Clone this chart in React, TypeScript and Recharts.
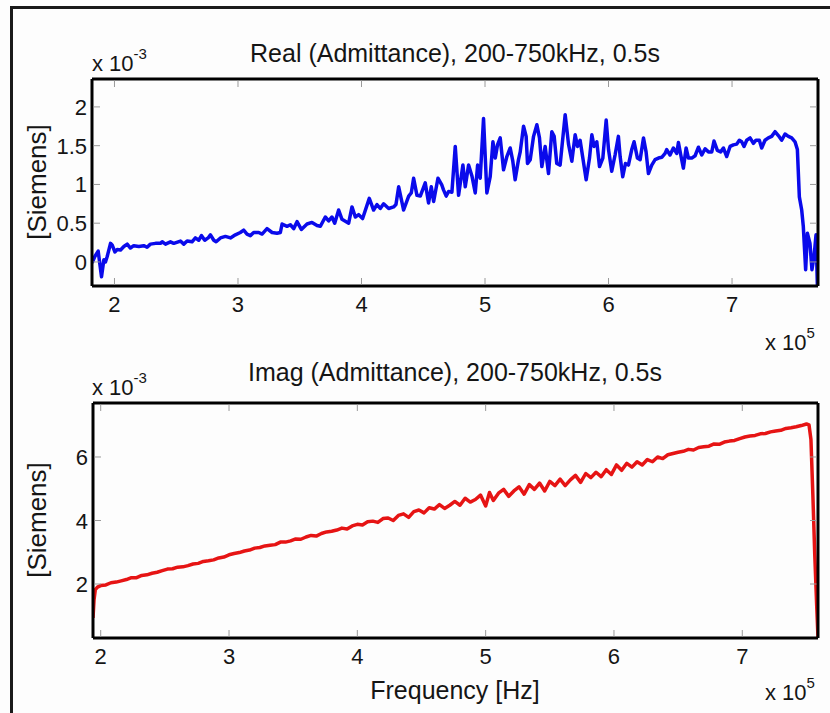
import React from 'react';
import { LineChart, Line, XAxis, YAxis } from 'recharts';

// Real part of the admittance sweep: frequency (kHz) and conductance (x 1e-3 S)
const realFreqKHz = [
  181.9, 184.1, 186.8, 189.5, 191.4, 192.7, 194.1, 196.8, 198.1, 200.3, 202.2, 204.9, 207.6, 210.3, 212.9, 215.6,
  219.7, 223.7, 226.4, 229.1, 233.2, 237.2, 238.6, 241.3, 245.3, 248.0, 253.4, 256.1, 258.8, 262.8, 265.5, 268.2,
  270.4, 273.1, 275.8, 277.7, 280.4, 282.3, 285.8, 289.8, 293.9, 297.9, 301.9, 304.6, 307.3, 310.0, 312.7, 316.8,
  319.5, 323.5, 327.6, 331.6, 334.3, 335.7, 339.7, 342.4, 345.1, 347.8, 351.3, 355.9, 359.9, 364.0, 366.7, 370.7,
  373.4, 376.1, 378.3, 381.5, 384.2, 389.6, 392.3, 395.0, 397.7, 400.9, 406.3, 409.8, 412.5, 415.2, 417.9, 422.0,
  426.0, 427.9, 430.1, 434.1, 438.2, 440.3, 442.2, 444.9, 447.6, 451.6, 454.3, 456.5, 458.4, 461.9, 465.1, 466.4,
  468.6, 470.5, 473.2, 475.9, 478.6, 482.1, 484.0, 486.7, 489.4, 492.1, 494.0, 496.1, 498.8, 501.5, 504.2, 506.4,
  508.3, 510.1, 512.3, 515.0, 517.7, 520.4, 522.5, 524.4, 527.1, 528.5, 531.2, 533.3, 534.4, 536.6, 539.3, 542.0,
  544.1, 546.0, 548.7, 551.4, 554.1, 556.0, 558.1, 560.8, 564.9, 567.6, 570.3, 573.0, 574.9, 577.0, 579.2, 581.9,
  584.6, 586.5, 588.3, 590.5, 592.7, 595.4, 598.1, 600.0, 602.6, 605.3, 608.0, 609.4, 611.5, 613.7, 616.1, 618.8,
  620.7, 623.4, 625.6, 628.3, 630.4, 632.3, 635.0, 637.7, 640.4, 643.1, 645.8, 647.1, 649.8, 652.5, 655.2, 656.6,
  658.5, 660.6, 662.8, 664.7, 667.4, 670.1, 672.8, 675.5, 678.2, 680.9, 683.6, 685.4, 688.1, 690.8, 693.0, 695.7,
  698.4, 701.1, 703.8, 705.9, 707.8, 709.7, 711.9, 714.6, 717.3, 719.4, 722.1, 724.0, 726.7, 729.4, 732.1, 734.8,
  737.5, 740.2, 742.9, 745.6, 748.3, 751.0, 752.9, 754.5, 756.4, 757.7, 759.6, 761.0, 763.1, 764.7, 766.4, 768.0,
  769.1,
];
const realAdmittance = [
  -0.01, 0.07, 0.14, -0.19, 0.03, 0.0, 0.07, 0.24, 0.22, 0.13, 0.16, 0.155, 0.2, 0.23, 0.18, 0.21,
  0.2, 0.21, 0.19, 0.23, 0.24, 0.24, 0.26, 0.23, 0.26, 0.24, 0.27, 0.23, 0.27, 0.26, 0.31, 0.28,
  0.34, 0.28, 0.31, 0.35, 0.28, 0.26, 0.31, 0.33, 0.31, 0.35, 0.38, 0.41, 0.36, 0.34, 0.38, 0.38,
  0.36, 0.43, 0.38, 0.37, 0.38, 0.49, 0.46, 0.48, 0.43, 0.52, 0.42, 0.49, 0.51, 0.47, 0.46, 0.58,
  0.53, 0.58, 0.5, 0.67, 0.55, 0.5, 0.71, 0.58, 0.61, 0.56, 0.82, 0.67, 0.74, 0.69, 0.75, 0.69,
  0.71, 0.74, 0.97, 0.67, 0.85, 0.89, 1.08, 0.86, 0.85, 1.02, 0.76, 0.97, 0.78, 1.08, 0.99, 0.93,
  0.85, 0.91, 0.9, 1.49, 0.86, 1.25, 0.97, 1.25, 1.11, 0.89, 1.25, 1.08, 1.85, 0.89, 1.1, 1.55,
  1.34, 1.51, 1.6, 1.19, 1.36, 1.47, 1.3, 1.06, 1.32, 1.42, 1.75, 1.62, 1.27, 1.32, 1.62, 1.77,
  1.6, 1.23, 1.49, 1.14, 1.68, 1.62, 1.27, 1.25, 1.9, 1.52, 1.3, 1.64, 1.49, 1.57, 1.34, 1.06,
  1.34, 1.64, 1.49, 1.55, 1.23, 1.34, 1.83, 1.45, 1.17, 1.38, 1.62, 1.36, 1.1, 1.27, 1.25, 1.45,
  1.55, 1.34, 1.32, 1.6, 1.42, 1.14, 1.25, 1.32, 1.34, 1.35, 1.4, 1.45, 1.38, 1.47, 1.4, 1.54,
  1.38, 1.21, 1.47, 1.34, 1.34, 1.37, 1.48, 1.38, 1.46, 1.42, 1.42, 1.56, 1.44, 1.42, 1.47, 1.36,
  1.49, 1.51, 1.52, 1.57, 1.55, 1.49, 1.57, 1.6, 1.53, 1.57, 1.57, 1.47, 1.57, 1.6, 1.62, 1.68,
  1.63, 1.57, 1.65, 1.62, 1.6, 1.55, 1.45, 0.84, 0.67, 0.46, -0.1, 0.37, 0.24, -0.1, 0.07, 0.35,
  -0.3,
];

// Imaginary part of the admittance sweep: frequency (kHz) and susceptance (x 1e-3 S)
const imagFreqKHz = [
  194.0, 194.8, 195.8, 197.5, 200, 204, 208, 212, 216, 220, 224, 228, 232, 236, 240, 244,
  248, 252, 256, 260, 264, 268, 272, 276, 280, 284, 288, 292, 296, 300, 304, 308,
  312, 316, 320, 324, 328, 332, 336, 340, 344, 348, 352, 356, 360, 364, 368, 372,
  376, 380, 384, 388, 392, 396, 400, 404, 408, 412, 416, 420, 424, 428, 432, 436,
  440, 444, 448, 452, 456, 460, 464, 468, 472, 476, 480, 484, 488, 492, 496, 500,
  503, 506, 510, 514, 518, 522, 526, 530, 534, 538, 542, 546, 550, 554, 558, 562,
  566, 570, 574, 578, 582, 586, 590, 594, 598, 602, 606, 610, 614, 618, 622, 626,
  630, 634, 638, 642, 646, 650, 654, 658, 662, 666, 670, 674, 678, 682, 686, 690,
  694, 698, 702, 706, 710, 714, 718, 722, 726, 730, 734, 738, 742, 746, 750, 752,
  753.5, 755, 756.5, 758, 759,
];
const imagAdmittance = [
  0.93, 1.5, 1.82, 1.9, 1.95, 1.97, 2.04, 2.06, 2.1, 2.14, 2.2, 2.2, 2.27, 2.29, 2.34, 2.37,
  2.42, 2.47, 2.48, 2.53, 2.54, 2.58, 2.63, 2.65, 2.71, 2.73, 2.76, 2.82, 2.85, 2.92, 2.96, 2.99,
  3.04, 3.07, 3.13, 3.15, 3.2, 3.22, 3.24, 3.32, 3.32, 3.36, 3.42, 3.41, 3.48, 3.53, 3.51, 3.59,
  3.64, 3.66, 3.7, 3.76, 3.73, 3.83, 3.88, 3.86, 3.96, 3.98, 3.94, 4.06, 4.08, 4.0, 4.16, 4.21,
  4.1, 4.28, 4.33, 4.24, 4.4, 4.36, 4.5, 4.38, 4.48, 4.6, 4.48, 4.7, 4.58, 4.66, 4.8, 4.46,
  4.88, 4.63, 4.86, 4.98, 4.76, 4.93, 5.06, 4.83, 5.13, 4.98, 5.18, 4.93, 5.23, 5.1, 5.3, 5.1,
  5.28, 5.42, 5.2, 5.48, 5.35, 5.52, 5.38, 5.6, 5.45, 5.75, 5.58, 5.8, 5.68, 5.85, 5.75, 5.92,
  5.85, 6.0, 5.95, 6.07, 6.11, 6.15, 6.18, 6.24, 6.22, 6.3, 6.32, 6.34, 6.41, 6.4, 6.47, 6.5,
  6.52, 6.58, 6.63, 6.66, 6.68, 6.73, 6.74, 6.79, 6.82, 6.84, 6.9, 6.92, 6.95, 6.99, 7.04, 7.01,
  6.55, 4.8, 2.9, 1.3, 0.3,
];

const freqTicks = [2, 3, 4, 5, 6, 7];
const realTicks = [0, 0.5, 1, 1.5, 2];
const imagTicks = [2, 4, 6];

const FONT = '"Liberation Sans", Arial, Helvetica, sans-serif';
const TEXT = '#151515';
const TICK_STROKE = '#9a9a9a';

const realData = realFreqKHz.map((f, i) => ({ f: f / 100, v: realAdmittance[i] }));
const imagData = imagFreqKHz.map((f, i) => ({ f: f / 100, v: imagAdmittance[i] }));

function BottomTick(props: any) {
  const { x, y, payload } = props;
  return (
    <g>
      <line x1={x} y1={y - 1.5} x2={x} y2={y - 8} stroke={TICK_STROKE} strokeWidth={1} />
      <text x={x} y={y + 26} textAnchor="middle" fontSize={22} fontFamily={FONT} fill={TEXT}>
        {payload.value}
      </text>
    </g>
  );
}

function TopTick(props: any) {
  const { x, y } = props;
  return <line x1={x} y1={y + 1.5} x2={x} y2={y + 8} stroke={TICK_STROKE} strokeWidth={1} />;
}

function LeftTick(props: any) {
  const { x, y, payload } = props;
  return (
    <g>
      <line x1={x + 1.5} y1={y} x2={x + 8} y2={y} stroke={TICK_STROKE} strokeWidth={1} />
      <text x={x - 5} y={y + 8} textAnchor="end" fontSize={22} fontFamily={FONT} fill={TEXT}>
        {payload.value}
      </text>
    </g>
  );
}

function RightTick(props: any) {
  const { x, y } = props;
  return <line x1={x - 1.5} y1={y} x2={x - 8} y2={y} stroke={TICK_STROKE} strokeWidth={1} />;
}

const axisLine = { stroke: '#000', strokeWidth: 3 };

function Panel(props: {
  data: { f: number; v: number }[];
  xDomain: [number, number];
  yDomain: [number, number];
  yTicks: number[];
  color: string;
  width: number;
  height: number;
  margin: { top: number; right: number; bottom: number; left: number };
}) {
  const { data, xDomain, yDomain, yTicks, color, width, height, margin } = props;
  return (
    <LineChart width={width} height={height} data={data} margin={margin}>
      <XAxis
        xAxisId="bottom"
        dataKey="f"
        type="number"
        domain={xDomain}
        allowDataOverflow
        ticks={freqTicks}
        interval={0}
        height={40}
        tickSize={0}
        tickMargin={0}
        axisLine={axisLine}
        tickLine={false}
        tick={<BottomTick />}
      />
      <XAxis
        xAxisId="top"
        orientation="top"
        dataKey="f"
        type="number"
        domain={xDomain}
        allowDataOverflow
        ticks={freqTicks}
        interval={0}
        height={10}
        tickSize={0}
        tickMargin={0}
        axisLine={axisLine}
        tickLine={false}
        tick={<TopTick />}
      />
      <YAxis
        yAxisId="left"
        type="number"
        domain={yDomain}
        allowDataOverflow
        ticks={yTicks}
        interval={0}
        width={60}
        tickSize={0}
        tickMargin={0}
        axisLine={axisLine}
        tickLine={false}
        tick={<LeftTick />}
      />
      <YAxis
        yAxisId="right"
        orientation="right"
        type="number"
        domain={yDomain}
        allowDataOverflow
        ticks={yTicks}
        interval={0}
        width={10}
        tickSize={0}
        tickMargin={0}
        axisLine={axisLine}
        tickLine={false}
        tick={<RightTick />}
      />
      <Line
        xAxisId="bottom"
        yAxisId="left"
        type="linear"
        dataKey="v"
        stroke={color}
        strokeWidth={3.5}
        strokeLinejoin="round"
        dot={false}
        isAnimationActive={false}
      />
    </LineChart>
  );
}

export default function App() {
  return (
    <div
      style={{
        position: 'absolute',
        left: 0,
        top: 0,
        width: 830,
        height: 713,
        background: '#fdfdfd',
        overflow: 'hidden',
        fontFamily: FONT,
      }}
    >
      {/* figure frame */}
      <div style={{ position: 'absolute', left: 10, top: 6, width: 830, height: 3, background: '#1a1a1a' }} />
      <div style={{ position: 'absolute', left: 10, top: 6, width: 3, height: 720, background: '#1a1a1a' }} />

      <div style={{ position: 'absolute', left: 0, top: 0 }}>
        <Panel
          data={realData}
          xDomain={[1.818, 7.696]}
          yDomain={[-0.31, 2.36]}
          yTicks={realTicks}
          color="#0a0aeb"
          width={830}
          height={330}
          margin={{ top: 69, right: 2, bottom: 4, left: 32 }}
        />
      </div>
      <div style={{ position: 'absolute', left: 0, top: 330 }}>
        <Panel
          data={imagData}
          xDomain={[1.94, 7.59]}
          yDomain={[0.3, 7.7]}
          yTicks={imagTicks}
          color="#e61414"
          width={830}
          height={383}
          margin={{ top: 63, right: 2, bottom: 35, left: 33 }}
        />
      </div>

      <svg
        width={830}
        height={713}
        style={{ position: 'absolute', left: 0, top: 0, pointerEvents: 'none' }}
        fontFamily={FONT}
        fill={TEXT}
      >
        <text x={455} y={62} textAnchor="middle" fontSize={25}>
          Real (Admittance), 200-750kHz, 0.5s
        </text>
        <text x={92} y={71} fontSize={22}>
          x 10<tspan dy={-12} fontSize={15}>-3</tspan>
        </text>
        <text x={37} y={182} fontSize={26} textAnchor="middle" transform="rotate(-90 37 182)" dy={9}>
          [Siemens]
        </text>
        <text x={765} y={350} fontSize={22}>
          x 10<tspan dy={-12} fontSize={15}>5</tspan>
        </text>

        <text x={455} y={381} textAnchor="middle" fontSize={25}>
          Imag (Admittance), 200-750kHz, 0.5s
        </text>
        <text x={92} y={395} fontSize={22}>
          x 10<tspan dy={-12} fontSize={15}>-3</tspan>
        </text>
        <text x={37} y={520} fontSize={26} textAnchor="middle" transform="rotate(-90 37 520)" dy={9}>
          [Siemens]
        </text>
        <text x={455} y={699} textAnchor="middle" fontSize={25}>
          Frequency [Hz]
        </text>
        <text x={765} y={700} fontSize={22}>
          x 10<tspan dy={-12} fontSize={15}>5</tspan>
        </text>
      </svg>
    </div>
  );
}
